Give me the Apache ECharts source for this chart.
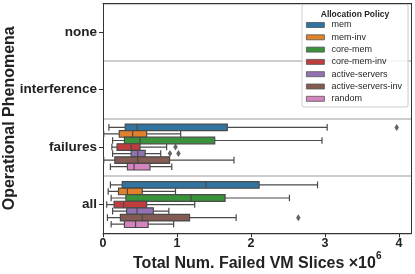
<!DOCTYPE html>
<html><head><meta charset="utf-8">
<script src="https://cdn.jsdelivr.net/npm/echarts@6/dist/echarts.min.js"></script>
<style>html,body{margin:0;padding:0;background:#fff}#c{width:415px;height:274px}</style>
</head><body><div id="c"></div>
<script>
const categories = ['none', 'interference', 'failures', 'all'];
const policies = ['mem', 'mem-inv', 'core-mem', 'core-mem-inv', 'active-servers', 'active-servers-inv', 'random'];
const colors = ['#3274a1', '#e1812c', '#3a923a', '#c03d3e', '#9372b2', '#845b53', '#d684bd'];
// [min, Q1, median, Q3, max] in units of 10^6, one row per policy
const noneBoxes = [];
const interferenceBoxes = [];
const failuresBoxes = [
  [0.08, 0.30, 0.46, 1.68, 3.03],
  [0.01, 0.22, 0.40, 0.59, 1.05],
  [0.13, 0.29, 0.50, 1.51, 2.96],
  [0.12, 0.19, 0.38, 0.50, 0.86],
  [0.13, 0.38, 0.47, 0.57, 0.78],
  [0.01, 0.16, 0.47, 0.90, 1.77],
  [0.10, 0.33, 0.42, 0.635, 0.93]
];
const allBoxes = [
  [0.10, 0.26, 1.39, 2.11, 2.90],
  [0.07, 0.21, 0.33, 0.53, 0.98],
  [0.11, 0.31, 1.19, 1.65, 2.52],
  [0.05, 0.15, 0.28, 0.59, 1.24],
  [0.13, 0.32, 0.46, 0.68, 0.89],
  [0.06, 0.235, 0.53, 1.17, 1.80],
  [0.11, 0.29, 0.44, 0.61, 0.955]
];
// [policyIndex, value]
const failuresOutliers = [[0, 3.97], [3, 0.98], [4, 0.905], [4, 1.02]];
const allOutliers = [[5, 2.64]];
const xTicks = [0, 1, 2, 3, 4];
const xMax = 4.17;

const FONT = 'Liberation Sans, Arial, sans-serif';
const grid = {left: 103, right: 3.5, top: 3.3, bottom: 40.7, containLabel: false, outerBoundsMode: 'none'};
const plotH = 274 - grid.top - grid.bottom;
const band = plotH / categories.length;
const avail = band * 0.8 - 2;
const gap = avail / policies.length * 0.3;
const bw = (avail - gap * (policies.length - 1)) / policies.length;
const offsets = policies.map((p, i) => bw / 2 - avail / 2 + i * (gap + bw));
const boxW = gap + bw + 0.05;

const boxesByCat = {none: noneBoxes, interference: interferenceBoxes, failures: failuresBoxes, all: allBoxes};
const outByCat = {failures: failuresOutliers, all: allOutliers};
const empty = ['-', '-', '-', '-', '-'];

const series = [];
policies.forEach((p, i) => {
  series.push({
    type: 'boxplot', name: p, layout: 'horizontal', xAxisIndex: 0, yAxisIndex: 0,
    boxWidth: [boxW, boxW], silent: true,
    itemStyle: {color: colors[i], borderColor: '#4a4a4a', borderWidth: 1.2},
    data: categories.map(c => (boxesByCat[c][i] || empty))
  });
});
policies.forEach((p, i) => {
  const pts = [];
  categories.forEach(c => {
    (outByCat[c] || []).forEach(o => { if (o[0] === i) pts.push([o[1], c]); });
  });
  if (pts.length) {
    series.push({
      type: 'scatter', name: 'outliers-' + p, xAxisIndex: 0, yAxisIndex: 0, silent: true,
      symbol: 'diamond', symbolSize: [4.5, 7], symbolOffset: [0, offsets[i]],
      itemStyle: {color: '#3d3d3d'}, z: 3, data: pts
    });
  }
});

const chart = echarts.init(document.getElementById('c'), null, {renderer: 'canvas'});
chart.setOption({
  animation: false,
  textStyle: {fontFamily: FONT},
  grid: grid,
  legend: {
    orient: 'vertical', left: 306, top: 20, padding: 0, itemWidth: 18, itemHeight: 5, itemGap: 2.3,
    icon: 'rect', selectedMode: false, z: 5,
    data: policies.map((p, i) => ({name: p, itemStyle: {color: colors[i], borderColor: '#555', borderWidth: 0.8}})),
    textStyle: {fontSize: 9, color: '#262626', lineHeight: 10, fontFamily: FONT, padding: [0, 0, 0, 2]}
  },
  graphic: [
    {type: 'rect', z: 4, shape: {x: 302, y: 4.5, width: 106, height: 102.5, r: 2},
     style: {fill: 'rgba(255,255,255,0.8)', stroke: '#cccccc', lineWidth: 1}},
    {type: 'text', z: 5, x: 355, y: 15,
     style: {text: 'Allocation Policy', fill: '#262626', font: 'bold 8.5px ' + FONT, textAlign: 'center', textVerticalAlign: 'middle'}}
  ],
  xAxis: [{
    type: 'value', min: 0, max: xMax, interval: 1, position: 'bottom', z: 10,
    axisLine: {show: true, onZero: false, lineStyle: {color: '#333', width: 1}},
    axisTick: {show: true, length: 4, customValues: xTicks, lineStyle: {color: '#333'}},
    axisLabel: {customValues: xTicks, color: '#222', fontSize: 12.5, fontWeight: 'bold', fontFamily: FONT, margin: 4},
    splitLine: {show: false},
    name: '{a|Total Num. Failed VM Slices ×10}{b|6}', nameLocation: 'middle', nameGap: 18, nameMoveOverlap: false,
    nameTextStyle: {rich: {
      a: {fontSize: 16, fontWeight: 'bold', color: '#222', fontFamily: FONT, lineHeight: 24},
      b: {fontSize: 10, fontWeight: 'bold', color: '#222', fontFamily: FONT, verticalAlign: 'top'}
    }}
  }, {
    type: 'value', min: 0, max: xMax, position: 'top', z: 10,
    axisLine: {show: true, onZero: false, lineStyle: {color: '#333', width: 1}},
    axisTick: {show: false}, axisLabel: {show: false}, splitLine: {show: false}
  }],
  yAxis: [{
    type: 'category', data: categories, inverse: true, position: 'left',
    axisLine: {show: true, onZero: false, lineStyle: {color: '#333', width: 1}},
    axisTick: {show: true, alignWithLabel: true, length: 4, lineStyle: {color: '#333'}},
    axisLabel: {color: '#222', fontSize: 13.5, fontWeight: 'bold', fontFamily: FONT, margin: 6},
    splitLine: {show: true, lineStyle: {color: '#bdbdbd', width: 1.5}},
    name: 'Operational Phenomena', nameLocation: 'middle', nameGap: 85, nameMoveOverlap: false,
    nameTextStyle: {fontSize: 16, fontWeight: 'bold', color: '#222', fontFamily: FONT}
  }, {
    type: 'category', data: categories, inverse: true, position: 'right', z: 10,
    axisLine: {show: true, onZero: false, lineStyle: {color: '#333', width: 1}},
    axisTick: {show: false}, axisLabel: {show: false}, splitLine: {show: false}
  }],
  series: series
});
</script>
</body></html>
